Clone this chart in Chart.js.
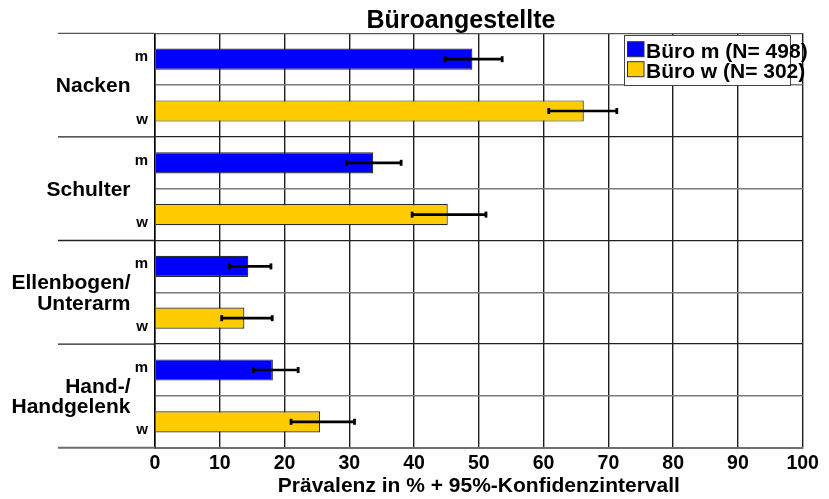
<!DOCTYPE html>
<html>
<head>
<meta charset="utf-8">
<script src="https://cdn.jsdelivr.net/npm/chart.js@4/dist/chart.umd.min.js"></script>
<style>
  html, body { margin: 0; padding: 0; background: #fff; }
  #wrap { width: 829px; height: 499px; }
</style>
</head>
<body>
<div id="wrap"><canvas id="c" width="829" height="499"></canvas></div>
<script>
// Body regions (group labels, split over lines) and the two rows per region
const groupLabels = [['Nacken'], ['Schulter'], ['Ellenbogen/', 'Unterarm'], ['Hand-/', 'Handgelenk']];
const sexLabels = ['m', 'w'];
const seriesNames = ['Büro m (N= 498)', 'Büro w (N= 302)'];
const chartTitle = 'Büroangestellte';
const axisTitle = 'Prävalenz in % + 95%-Konfidenzintervall';

// Prevalence (%) with lower / upper 95% confidence limits
const maleValues   = [49.0, 33.7, 14.4, 18.2];
const maleLower    = [44.8, 29.6, 11.5, 15.2];
const maleUpper    = [53.6, 38.0, 17.9, 22.1];
const femaleValues = [66.2, 45.2, 13.8, 25.5];
const femaleLower  = [60.8, 39.7, 10.3, 21.0];
const femaleUpper  = [71.3, 51.1, 18.1, 30.8];

// x axis range
const xMin = 0, xMax = 100, xStep = 10;

const FONT = '"Liberation Sans", Arial, Helvetica, sans-serif';

// one row per region and sex: m rows even, w rows odd
const rowLabels = groupLabels.flatMap(() => sexLabels);
const onRows = (vals, slot) => rowLabels.map((_, r) => (r % 2 === slot ? vals[Math.floor(r / 2)] : null));

const chartDecor = {
  id: 'chartDecor',
  beforeDatasetsDraw(chart) {
    const { ctx, chartArea, scales: { y } } = chart;
    const half = (y.getPixelForValue(1) - y.getPixelForValue(0)) / 2;
    ctx.save();
    // region separators reaching into the label column
    for (let g = 0; g <= groupLabels.length; g++) {
      const last = g === groupLabels.length;
      const yy = last ? y.getPixelForValue(2 * g - 1) + half : y.getPixelForValue(2 * g) - half;
      ctx.strokeStyle = last ? '#6e6e6e' : (g === 0 ? '#555' : '#222');
      ctx.lineWidth = last ? 2 : 1.3;
      ctx.beginPath();
      ctx.moveTo(58, yy);
      ctx.lineTo(chartArea.left, yy);
      ctx.stroke();
    }
    // region names
    ctx.fillStyle = '#000';
    ctx.font = 'bold 21px ' + FONT;
    ctx.textAlign = 'right';
    ctx.textBaseline = 'alphabetic';
    groupLabels.forEach((lines, g) => {
      const mid = (y.getPixelForValue(2 * g) + y.getPixelForValue(2 * g + 1)) / 2;
      const lh = 20.5;
      lines.forEach((t, k) => {
        ctx.fillText(t, 130.5, mid + (k - (lines.length - 1) / 2) * lh + 7);
      });
    });
    ctx.restore();
  },
  afterDatasetsDraw(chart) {
    const { ctx, scales: { x } } = chart;
    ctx.save();
    ctx.strokeStyle = '#000';
    chart.data.datasets.forEach((ds, di) => {
      const meta = chart.getDatasetMeta(di);
      meta.data.forEach((bar, i) => {
        if (ds.data[i] == null) return;
        const x1 = x.getPixelForValue(ds.errLow[i]);
        const x2 = x.getPixelForValue(ds.errHigh[i]);
        const yc = bar.y;
        ctx.lineWidth = 2.7;
        ctx.beginPath();
        ctx.moveTo(x1, yc);
        ctx.lineTo(x2, yc);
        ctx.stroke();
        ctx.lineWidth = 2.8;
        [x1, x2].forEach(px => {
          ctx.beginPath();
          ctx.moveTo(px, yc - 3);
          ctx.lineTo(px, yc + 3);
          ctx.stroke();
        });
      });
    });
    ctx.restore();
  },
  afterDraw(chart) {
    const { ctx } = chart;
    ctx.save();
    // title
    ctx.fillStyle = '#000';
    ctx.font = 'bold 25px ' + FONT;
    ctx.textAlign = 'center';
    ctx.textBaseline = 'alphabetic';
    ctx.fillText(chartTitle, 461, 27.5);
    // legend box
    ctx.fillStyle = '#fff';
    ctx.fillRect(624, 35, 166, 50.5);
    ctx.strokeStyle = '#444';
    ctx.lineWidth = 1;
    ctx.strokeRect(624.5, 35.5, 166, 50);
    ctx.font = 'bold 21px ' + FONT;
    ctx.textAlign = 'left';
    chart.data.datasets.forEach((ds, i) => {
      const sy = 41.7 + i * 20;
      ctx.fillStyle = ds.backgroundColor;
      ctx.fillRect(627.5, sy, 16.5, 15);
      ctx.strokeStyle = '#333';
      ctx.strokeRect(627.5, sy, 16.5, 15);
      ctx.fillStyle = '#000';
      ctx.fillText(ds.label, 646, 57.8 + i * 20);
    });
    ctx.restore();
  }
};

new Chart(document.getElementById('c'), {
  type: 'bar',
  data: {
    labels: rowLabels,
    datasets: [
      {
        label: seriesNames[0],
        data: onRows(maleValues, 0),
        errLow: onRows(maleLower, 0),
        errHigh: onRows(maleUpper, 0),
        backgroundColor: '#0000FF',
        borderColor: '#2a2a2a',
        borderWidth: 1.2
      },
      {
        label: seriesNames[1],
        data: onRows(femaleValues, 1),
        errLow: onRows(femaleLower, 1),
        errHigh: onRows(femaleUpper, 1),
        backgroundColor: '#FFCC00',
        borderColor: '#2a2a2a',
        borderWidth: 1.2
      }
    ]
  },
  options: {
    indexAxis: 'y',
    responsive: false,
    animation: false,
    devicePixelRatio: 1,
    skipNull: true,
    categoryPercentage: 1,
    barPercentage: 0.41,
    layout: { padding: { left: 0, right: 26.3, top: 33.3, bottom: 0 } },
    plugins: {
      legend: { display: false },
      title: { display: false },
      tooltip: { enabled: false }
    },
    scales: {
      x: {
        type: 'linear',
        min: xMin,
        max: xMax,
        ticks: {
          stepSize: xStep,
          color: '#000',
          padding: 4,
          font: { family: FONT, size: 19.5, weight: 'bold' }
        },
        grid: { color: '#1e1e1e', lineWidth: 1.4, drawTicks: false },
        border: { color: '#6e6e6e', width: 2 },
        title: {
          display: true,
          text: axisTitle,
          color: '#000',
          padding: { top: 0, bottom: 0.5 },
          font: { family: FONT, size: 21, weight: 'bold' }
        },
        afterFit(scale) { scale.height = 51.3; }
      },
      y: {
        type: 'category',
        offset: true,
        ticks: {
          color: '#000',
          padding: 7,
          labelOffset: 3,
          font: { family: FONT, size: 15, weight: 'bold', lineHeight: 0.72 },
          callback(value, index) {
            return index % 2 === 0 ? [rowLabels[index], ''] : ['', rowLabels[index]];
          }
        },
        grid: {
          offset: true,
          drawTicks: false,
          color: (c) => (c.index === 0 ? '#555' : (c.index % 2 === 0 ? '#222' : '#7a7a7a')),
          lineWidth: (c) => (c.index % 2 === 0 ? 1.3 : 1.5)
        },
        border: { color: '#000', width: 1.5 },
        afterFit(scale) { scale.width = 155; }
      }
    }
  },
  plugins: [chartDecor]
});
</script>
</body>
</html>
